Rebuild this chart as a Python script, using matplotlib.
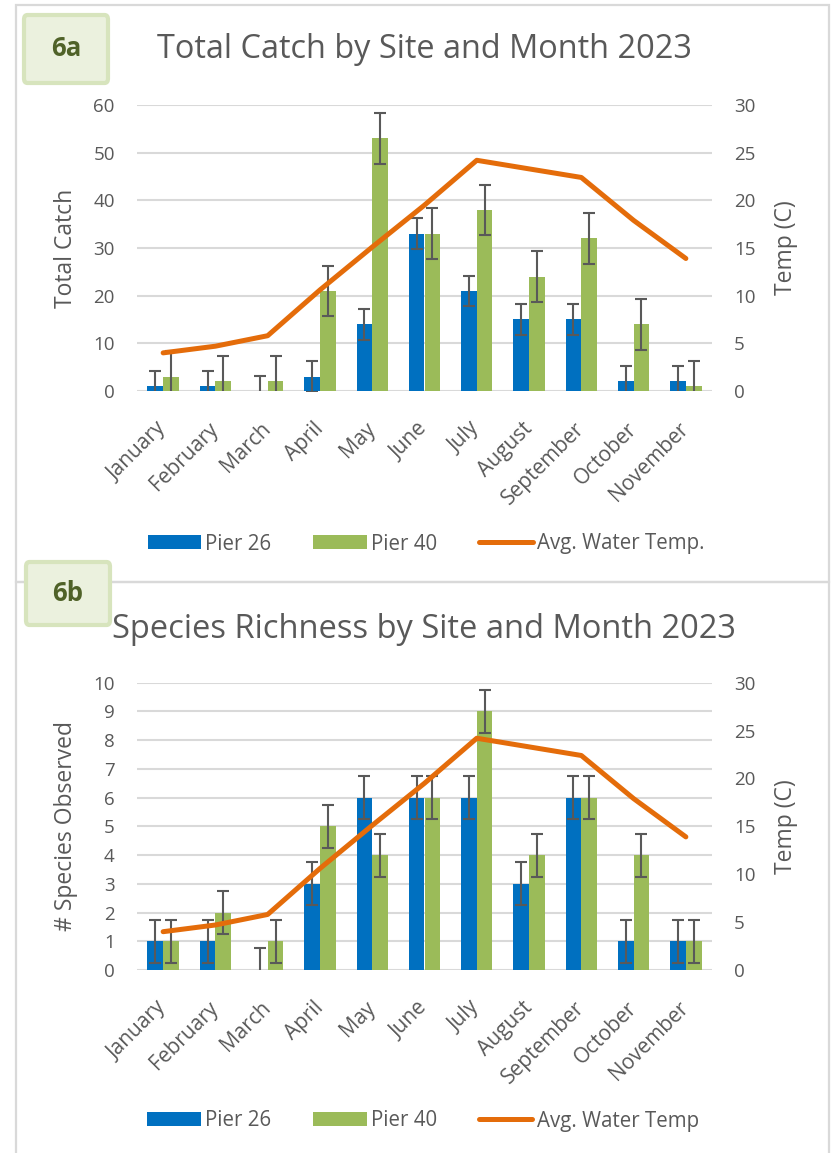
import matplotlib
matplotlib.use("Agg")
import matplotlib.pyplot as plt
from matplotlib.patches import Patch, Rectangle, FancyBboxPatch
from matplotlib.lines import Line2D
import numpy as np

plt.rcParams['font.family'] = ['Open Sans', 'DejaVu Sans']

months = ["January", "February", "March", "April", "May", "June", "July",
          "August", "September", "October", "November"]

# Avg. water temperature (C)
water_temp = [4.0, 4.7, 5.8, 10.6, 15.1, 19.5, 24.2, 23.3, 22.4, 17.9, 13.9]

# 6a: total catch
catch_p26 = [1, 1, 0, 3, 14, 33, 21, 15, 15, 2, 2]
catch_p40 = [3, 2, 2, 21, 53, 33, 38, 24, 32, 14, 1]
catch_err_p26 = 3.2
catch_err_p40 = 5.3

# 6b: species richness
rich_p26 = [1, 1, 0, 3, 6, 6, 6, 3, 6, 1, 1]
rich_p40 = [1, 2, 1, 5, 4, 6, 9, 4, 6, 4, 1]
rich_err_p26 = 0.75
rich_err_p40 = 0.75

BLUE = "#0070C0"
GREEN = "#9BBB59"
ORANGE = "#E46C0A"
GRID = "#D9D9D9"
TEXT = "#595959"
ERR = "#595959"

W, H = 833, 1153
fig = plt.figure(figsize=(W / 100, H / 100), dpi=100)


def fx(px):
    return px / W


def fy(py):
    return 1 - py / H


def panel(top_px, bottom_px, left_px=137, right_px=712):
    return fig.add_axes([fx(left_px), fy(bottom_px), fx(right_px - left_px),
                         (bottom_px - top_px) / H])


# chart-area frames
fig.add_artist(Rectangle((fx(16), fy(582)), fx(813), (582 - 5) / H,
                         transform=fig.transFigure, fill=False,
                         edgecolor=GRID, linewidth=1.6))
fig.add_artist(Rectangle((fx(16), fy(1160)), fx(813), (1160 - 582) / H,
                         transform=fig.transFigure, fill=False,
                         edgecolor=GRID, linewidth=1.6))


def draw_chart(ax, p26, p40, e26, e40, ymax, ystep, ylabel):
    x = np.arange(len(months))
    w = 0.3
    ax.bar(x - w / 2, p26, width=w, color=BLUE, zorder=2)
    ax.bar(x + w / 2, p40, width=w, color=GREEN, zorder=2)
    ax.errorbar(x - w / 2, p26, yerr=e26, fmt='none', ecolor=ERR,
                elinewidth=1.5, capsize=4, capthick=1.5, zorder=3)
    ax.errorbar(x + w / 2, p40, yerr=e40, fmt='none', ecolor=ERR,
                elinewidth=1.5, capsize=4, capthick=1.5, zorder=3)
    ax.set_xlim(-0.5, len(months) - 0.5)
    ax.set_ylim(0, ymax)
    ax.set_yticks(np.arange(0, ymax + ystep / 2, ystep))
    ax.yaxis.grid(True, color=GRID, linewidth=1.5, zorder=0)
    ax.set_axisbelow(True)
    for s in ax.spines.values():
        s.set_visible(False)
    ax.tick_params(axis='both', length=0, colors=TEXT, labelsize=13.5)
    ax.tick_params(axis='y', pad=16)
    ax.set_xticks(x)
    ax.set_xticklabels(months, rotation=45, ha='right', va='center',
                       rotation_mode='anchor', fontsize=15, color=TEXT)
    ax.tick_params(axis='x', pad=25)
    ax.text(-0.1235, 0.5, ylabel, transform=ax.transAxes, rotation=90,
            ha='center', va='center', fontsize=16.5, color=TEXT)

    ax2 = ax.twinx()
    ax2.plot(x, water_temp, color=ORANGE, linewidth=3.6,
             solid_capstyle='round', solid_joinstyle='round', zorder=4)
    ax2.set_ylim(0, 30)
    ax2.set_yticks(np.arange(0, 31, 5))
    for s in ax2.spines.values():
        s.set_visible(False)
    ax2.tick_params(axis='y', length=0, colors=TEXT, labelsize=13.5, pad=16)
    ax2.text(1.1287, 0.5, "Temp (C)", transform=ax2.transAxes, rotation=90,
             ha='center', va='center', fontsize=16.5, color=TEXT)
    return ax2


ax_a = panel(105, 391)
draw_chart(ax_a, catch_p26, catch_p40, catch_err_p26, catch_err_p40,
           60, 10, "Total Catch")
ax_b = panel(682.7, 970)
draw_chart(ax_b, rich_p26, rich_p40, rich_err_p26, rich_err_p40,
           10, 1, "# Species Observed")

fig.text(fx(424), fy(50), "Total Catch by Site and Month 2023",
         ha='center', va='center', fontsize=23.4, color=TEXT)
fig.text(fx(424), fy(630), "Species Richness by Site and Month 2023",
         ha='center', va='center', fontsize=23.5, color=TEXT)

# panel tags
for (x0, y0, x1, y1, tag) in [(24, 15, 108, 83, "6a"), (26, 562, 110, 625, "6b")]:
    fig.add_artist(FancyBboxPatch((fx(x0), fy(y1)), fx(x1 - x0), (y1 - y0) / H,
                                  boxstyle="round,pad=0,rounding_size=0.004",
                                  transform=fig.transFigure,
                                  facecolor="#EBF1DE", edgecolor="#D7E4BD",
                                  linewidth=3, zorder=5))
    fig.text(fx((x0 + x1) / 2), fy((y0 + y1) / 2), tag, ha='center',
             va='center', fontsize=18.5, fontweight='bold', color="#4F6228",
             zorder=6)

handles = [Patch(facecolor=BLUE, edgecolor='none'),
           Patch(facecolor=GREEN, edgecolor='none'),
           Line2D([0], [0], color=ORANGE, linewidth=3.6,
                  solid_capstyle='round')]
legend_kw = dict(loc='center', ncol=3, frameon=False, fontsize=14.8,
                 handlelength=2.6, handleheight=0.68, handletextpad=0.2,
                 columnspacing=2.05, labelcolor=TEXT)
fig.legend(handles, ["Pier 26", "Pier 40", "Avg. Water Temp."],
           bbox_to_anchor=(fx(426), fy(544)), **legend_kw)
fig.legend(handles, ["Pier 26", "Pier 40", "Avg. Water Temp"],
           bbox_to_anchor=(fx(423), fy(1121)), **legend_kw)

fig.savefig("out.png", dpi=100)
